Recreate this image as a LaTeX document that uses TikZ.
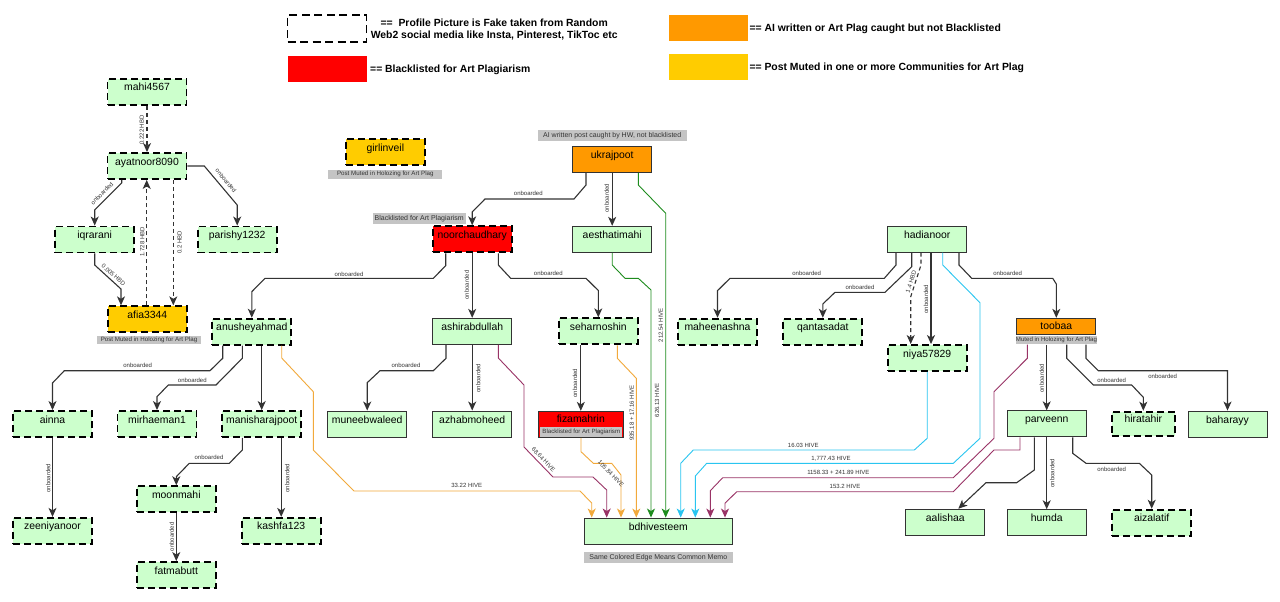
\documentclass[tikz,border=0pt]{standalone}
\usepackage{fontspec}
\setmainfont{Liberation Sans}
\usetikzlibrary{arrows.meta}
\newcommand\fsz[1]{\fontsize{#1}{#1}\selectfont}
\definecolor{ngreen}{HTML}{CCFFCC}
\definecolor{nred}{HTML}{FF0000}
\definecolor{norange}{HTML}{FF9900}
\definecolor{nyellow}{HTML}{FFCC00}
\definecolor{lgray}{HTML}{C4C4C4}
\definecolor{edgegray}{HTML}{333333}
\definecolor{labeltext}{HTML}{333333}
\definecolor{corange}{HTML}{F2A93B}
\definecolor{cmaroon}{HTML}{993366}
\definecolor{cgreen}{HTML}{1E8C1E}
\definecolor{ccyan}{HTML}{29C5F0}
\begin{document}
\begin{tikzpicture}[x=1pt,y=-1pt,
  base/.style={rectangle, minimum width=79pt, minimum height=26pt, inner sep=0pt, font=\fsz{10.4}, text height=8pt, text depth=10pt},
  fake/.style={base, draw=black, line width=1.9pt, dash pattern=on 7pt off 4pt, fill=ngreen},
  real/.style={base, draw=edgegray, line width=0.9pt, fill=ngreen},
  glabel/.style={rectangle, fill=lgray, inner sep=0pt, text=labeltext},
  lbl/.style={font=\fsz{6}, text=labeltext, inner sep=0.5pt},
  ob/.style={draw=edgegray, line width=1.1pt, -{Stealth[length=9pt,width=8pt,inset=2.5pt]}},
  hbd/.style={ob, dash pattern=on 4pt off 3pt},
  memo/.style={draw=#1, line width=0.9pt, -{Stealth[length=9pt,width=8pt,inset=2.5pt]}},
  legbox/.style={rectangle, inner sep=0pt, minimum width=79pt, minimum height=26pt},
  legt/.style={font=\bfseries\fsz{10.4}, inner sep=0pt, anchor=west, text height=7.5pt, text depth=2pt}
]
\useasboundingbox (0,0) rectangle (1280,602);
\fill[white] (0,0) rectangle (1280,602);

% ---------- legend ----------
\node[legbox, draw=black, line width=1.9pt, dash pattern=on 8pt off 4.5pt, fill=white, minimum height=26.7pt] (lg1) at (327,28.3) {};
\node[font=\bfseries\fontsize{10.4}{12.3}\selectfont, align=center, inner sep=0pt] (lg1t) at (494.2,29.5) {==\ \ Profile Picture is Fake taken from Random\\Web2 social media like Insta, Pinterest, TikToc etc};
\node[legbox, fill=nred] (lg2) at (327,68.8) {};
\node[legt] (lg2t) at (370,69.5) {== Blacklisted for Art Plagiarism};
\node[legbox, fill=norange] (lg3) at (708.2,28) {};
\node[legt] (lg3t) at (749.3,29) {== AI written or Art Plag caught but not Blacklisted};
\node[legbox, fill=nyellow] (lg4) at (708.2,67) {};
\node[legt] (lg4t) at (749.3,67.7) {== Post Muted in one or more Communities for Art Plag};

% ---------- nodes ----------
\node[fake] (mahi) at (147,92) {mahi4567};
\node[fake] (ayat) at (147,166) {ayatnoor8090};
\node[fake] (iqra) at (94.7,239.5) {iqrarani};
\node[fake] (pari) at (237.2,239.5) {parishy1232};
\node[fake, fill=nyellow] (afia) at (147.3,319.3) {afia3344};
\node[glabel, minimum width=104pt, minimum height=8.6pt, font=\fsz{6.2}] (afialbl) at (149,340) {Post Muted in Holozing for Art Plag};
\node[fake, fill=nyellow] (girl) at (385.3,152) {girlinveil};
\node[glabel, minimum width=114pt, minimum height=8.7pt, font=\fsz{6.2}] (girllbl) at (385.3,174.3) {Post Muted in Holozing for Art Plag};
\node[real, fill=norange] (ukra) at (612.2,159.7) {ukrajpoot};
\node[glabel, minimum width=149pt, minimum height=11pt, font=\fsz{7}] (ukralbl) at (612.2,135.5) {AI written post caught by HW, not blacklisted};
\node[fake, fill=nred] (noor) at (472.2,239.3) {noorchaudhary};
\node[glabel, minimum width=93pt, minimum height=10.7pt, font=\fsz{7}] (noorlbl) at (419.2,218.7) {Blacklisted for Art Plagiarism};
\node[real] (aest) at (612.2,239.3) {aesthatimahi};
\node[fake] (anus) at (251.8,331.7) {anusheyahmad};
\node[real] (ashi) at (472.2,331.3) {ashirabdullah};
\node[fake] (seha) at (598.3,331.3) {seharnoshin};
\node[real] (mune) at (367.2,424) {muneebwaleed};
\node[real] (azha) at (472.2,424) {azhabmoheed};
\node[real, fill=nred, minimum width=85pt, text depth=12pt] (fiza) at (580.8,424.3) {fizamahrin};
\node[glabel, minimum width=82pt, minimum height=10pt, font=\fsz{6.1}] (fizalbl) at (581.3,431.7) {Blacklisted for Art Plagiarism};
\node[fake] (ainn) at (52.5,424) {ainna};
\node[fake] (mirh) at (157,424) {mirhaeman1};
\node[fake] (mani) at (261.7,424) {manisharajpoot};
\node[fake] (zeen) at (52.5,530.8) {zeeniyanoor};
\node[fake] (moon) at (176.3,499.2) {moonmahi};
\node[fake] (kash) at (281.2,530.8) {kashfa123};
\node[fake] (fatm) at (176.3,575) {fatmabutt};
\node[real, minimum width=148.7pt] (bdhi) at (658.3,531) {bdhivesteem};
\node[glabel, minimum width=148.7pt, minimum height=11pt, font=\fsz{7}] (bdhilbl) at (658.3,557.2) {Same Colored Edge Means Common Memo};
\node[real] (hadi) at (927.2,239.2) {hadianoor};
\node[fake] (mahe) at (717.5,331.7) {maheenashna};
\node[fake] (qant) at (822.8,331.7) {qantasadat};
\node[fake] (niya) at (927.2,358) {niya57829};
\node[real, fill=norange, minimum height=16pt, text height=8pt, text depth=2pt] (toob) at (1056.3,326.3) {toobaa};
\node[glabel, minimum width=81.6pt, minimum height=8.3pt, font=\fsz{6.1}] (tooblbl) at (1056.5,340.2) {Muted in Holozing for Art Plag};
\node[real] (parv) at (1046.7,423.8) {parveenn};
\node[fake, minimum width=63.3pt, minimum height=24.3pt] (hira) at (1143.3,423.8) {hiratahir};
\node[real] (baha) at (1227.5,424) {baharayy};
\node[real] (humd) at (1046.7,522.7) {humda};
\node[fake] (aiza) at (1151.7,522.7) {aizalatif};
\node[real] (aali) at (945.3,522.2) {aalishaa};

% ---------- onboarding / HBD edges ----------
\draw[ob] (ayat.south -| 121.7,0) -- (121.7,183) -- (94.7,210) -- (iqra.north);
\draw[ob] (ayat.east) -- (204.3,166) -- (237.2,205) -- (pari.north);
\draw[ob] (iqra.south) -- (94.7,265) -- (121,289) -- (afia.north -| 121,0);
\draw[hbd] (mahi.south) -- (ayat.north);
\draw[hbd] (afia.north -| 146.7,0) -- (ayat.south -| 146.7,0);
\draw[hbd] (ayat.south -| 173.3,0) -- (afia.north -| 173.3,0);
\draw[ob] (ukra.south -| 586,0) -- (586,185) -- (574,199) -- (485,199) -- (472.2,212) -- (noor.north);
\draw[ob] (ukra.south) -- (aest.north);
\draw[ob] (noor.south -| 445.7,0) -- (445.7,265.7) -- (433.3,278.3) -- (265,278.3) -- (251.8,291.7) -- (anus.north);
\draw[ob] (noor.south) -- (ashi.north);
\draw[ob] (noor.south -| 498.3,0) -- (498.3,265) -- (510.7,278.3) -- (586,278.3) -- (598.3,290.5) -- (seha.north);
\draw[ob] (anus.south -| 222.7,0) -- (222.7,358.3) -- (210,370.7) -- (64.3,370.7) -- (52.5,383) -- (ainn.north);
\draw[ob] (anus.south -| 242.3,0) -- (242.3,358.3) -- (216,385) -- (168.3,385) -- (157,396.7) -- (mirh.north);
\draw[ob] (anus.south -| 261.7,0) -- (mani.north);
\draw[ob] (ainn.south) -- (zeen.north);
\draw[ob] (mani.south -| 242.3,0) -- (242.3,450) -- (229.3,463.3) -- (189.3,463.3) -- (176.3,476.7) -- (moon.north);
\draw[ob] (mani.south -| 281.2,0) -- (kash.north);
\draw[ob] (moon.south) -- (fatm.north);
\draw[ob] (ashi.south -| 446,0) -- (446,358.3) -- (433.3,370.7) -- (380,370.7) -- (367.2,382.7) -- (mune.north);
\draw[ob] (ashi.south) -- (azha.north);
\draw[ob] (seha.south -| 580.8,0) -- (fiza.north);
\draw[ob] (hadi.south -| 896,0) -- (896,265) -- (884.3,278.3) -- (730,278.3) -- (717.5,290.7) -- (mahe.north);
\draw[ob] (hadi.south -| 911.7,0) -- (911.7,266.7) -- (885,292.3) -- (835,292.3) -- (822.8,304) -- (qant.north);
\draw[hbd] (hadi.south -| 921,0) -- (921,265) -- (910.7,296.7) -- (niya.north -| 910.7,0);
\draw[ob] (hadi.south -| 931,0) -- (niya.north -| 931,0);
\draw[ob] (hadi.south -| 959,0) -- (959,265) -- (971.7,278.3) -- (1052.7,278.3) -- (1056.3,284) -- (toob.north);
\draw[ob] (tooblbl.south -| 1046.7,0) -- (parv.north);
\draw[ob] (tooblbl.south -| 1066.7,0) -- (1066.7,358.3) -- (1093.3,385) -- (1131.7,385) -- (1143.3,397.3) -- (hira.north);
\draw[ob] (tooblbl.south -| 1086,0) -- (1086,358.3) -- (1098.3,370.7) -- (1227.5,370.7) -- (baha.north);
\draw[ob] (parv.south) -- (humd.north);
\draw[ob] (parv.south -| 1072.7,0) -- (1072.7,453.3) -- (1086,463.3) -- (1139.3,463.3) -- (1151.7,475) -- (aiza.north);
\draw[ob] (parv.south -| 1034.3,0) -- (1034.3,470) -- (1016.7,482.7) -- (986,482.7) -- (aali.north -| 958.3,0);

% ---------- memo edges ----------
\draw[memo=corange] (anus.south -| 281.7,0) -- (281.7,358) -- (313.3,391.7) -- (313.3,450) -- (354,491) -- (580,491) -- (591.7,503) -- (bdhi.north -| 591.7,0);
\draw[memo=cmaroon] (ashi.south -| 498.3,0) -- (498.3,358) -- (524,385) -- (524,447) -- (553,477) -- (593,477) -- (606.7,490) -- (bdhi.north -| 606.7,0);
\draw[memo=corange] (fiza.south -| 581,0) -- (581,451.7) -- (593.3,463.3) -- (611.7,463.3) -- (621,475) -- (bdhi.north -| 621,0);
\draw[memo=corange] (seha.south -| 617.3,0) -- (617.3,358.3) -- (636.3,378.3) -- (bdhi.north -| 636.3,0);
\draw[memo=cgreen] (ukra.south -| 638.3,0) -- (638.3,185) -- (665.7,213.3) -- (bdhi.north -| 665.7,0);
\draw[memo=cgreen] (aest.south) -- (612.2,265) -- (625,278.3) -- (638.3,278.3) -- (651,290) -- (bdhi.north -| 651,0);
\draw[memo=ccyan] (niya.south) -- (927.2,438.3) -- (914.3,450) -- (693.3,450) -- (680.7,463.3) -- (bdhi.north -| 680.7,0);
\draw[memo=ccyan] (hadi.south -| 942.7,0) -- (942.7,265) -- (980,302.7) -- (980,438.3) -- (953.3,463.3) -- (706.7,463.3) -- (695.3,476) -- (bdhi.north -| 695.3,0);
\draw[memo=cmaroon] (tooblbl.south -| 1027.3,0) -- (1027.3,358.3) -- (994,391.7) -- (994,438.3) -- (953.3,477.7) -- (722.7,477.7) -- (710.3,490.7) -- (bdhi.north -| 710.3,0);
\draw[memo=cmaroon] (parv.south -| 1020,0) -- (1020,450) -- (994,450) -- (953.3,491.7) -- (736.7,491.7) -- (725,503.3) -- (bdhi.north -| 725,0);

% ---------- edge labels ----------
\node[lbl, rotate=45] (l1) at (102,193.5) {onboarded};
\node[lbl, rotate=-50] (l2) at (226,180.5) {onboarded};
\node[lbl, rotate=-41] (l3) at (113.5,275) {0.005 HBD};
\node[lbl, rotate=90] (l4) at (141.7,130) {0.222 HBD};
\node[lbl, rotate=90] (l5) at (142.3,241.7) {1.728 HBD};
\node[lbl, rotate=90] (l6) at (179.5,242.3) {0.2 HBD};
\node[lbl] (l7) at (528.3,193.3) {onboarded};
\node[lbl, rotate=90] (l8) at (606.7,198.3) {onboarded};
\node[lbl] (l9) at (349,274) {onboarded};
\node[lbl, rotate=90] (l10) at (466.7,285) {onboarded};
\node[lbl] (l11) at (548.3,273.3) {onboarded};
\node[lbl] (l12) at (137.7,365.7) {onboarded};
\node[lbl] (l13) at (192.3,380) {onboarded};
\node[lbl, rotate=90] (l14) at (48.3,478.3) {onboarded};
\node[lbl] (l15) at (209,457.7) {onboarded};
\node[lbl, rotate=90] (l16) at (287.3,478.3) {onboarded};
\node[lbl, rotate=90] (l17) at (171.7,536.7) {onboarded};
\node[lbl] (l18) at (406,365.7) {onboarded};
\node[lbl, rotate=90] (l19) at (478.3,378.3) {onboarded};
\node[lbl, rotate=90] (l20) at (575,383.3) {onboarded};
\node[lbl] (l21) at (806.7,273.3) {onboarded};
\node[lbl] (l22) at (860,287.7) {onboarded};
\node[lbl, rotate=72] (l23) at (911,281.7) {1.4 HBD};
\node[lbl, rotate=90] (l24) at (926,299.3) {onboarded};
\node[lbl] (l25) at (1007.7,273.3) {onboarded};
\node[lbl, rotate=90] (l26) at (1041.7,378) {onboarded};
\node[lbl] (l27) at (1111.7,380) {onboarded};
\node[lbl] (l28) at (1162.7,376.7) {onboarded};
\node[lbl, rotate=90] (l29) at (1052.3,473.3) {onboarded};
\node[lbl] (l30) at (1111.7,469) {onboarded};
\node[lbl] (m1) at (466.7,485.7) {33.22 HIVE};
\node[lbl, rotate=-46] (m2) at (543.5,459.5) {68.64 HIVE};
\node[lbl, rotate=-45] (m3) at (611,473.5) {105.84 HIVE};
\node[lbl, rotate=90] (m4) at (631.7,413) {935.18 + 17.16 HIVE};
\node[lbl, rotate=90] (m5) at (657,400) {626.13 HIVE};
\node[lbl, rotate=90] (m6) at (660.7,325) {212.54 HIVE};
\node[lbl] (m7) at (803.3,445) {16.03 HIVE};
\node[lbl] (m8) at (831,459) {1,777.43 HIVE};
\node[lbl] (m9) at (838.3,472.7) {1158.33 + 241.89 HIVE};
\node[lbl] (m10) at (845,486.7) {153.2 HIVE};
\end{tikzpicture}
\end{document}
